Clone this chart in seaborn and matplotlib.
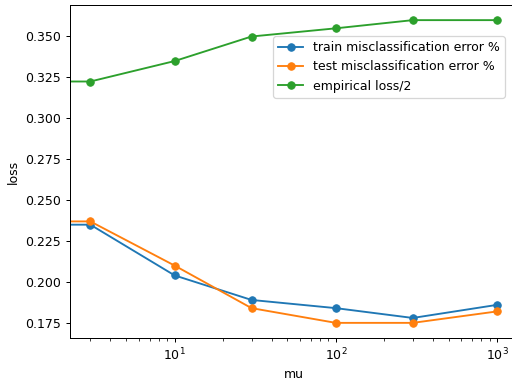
import matplotlib
matplotlib.use("Agg")
import matplotlib.pyplot as plt
import seaborn as sns
import numpy as np

mu = [0, 3, 10, 30, 100, 300, 1000]
train_err = [0.235, 0.235, 0.204, 0.189, 0.184, 0.178, 0.186]
test_err = [0.237, 0.237, 0.210, 0.184, 0.175, 0.175, 0.182]
emp_loss = [0.3225, 0.3225, 0.335, 0.350, 0.355, 0.360, 0.360]

labels = ["train misclassification error %", "test misclassification error %", "empirical loss/2"]
colors = ["#1f77b4", "#ff7f0e", "#2ca02c"]

DPI = 90
fig = plt.figure(figsize=(512 / DPI, 381 / DPI), dpi=DPI)
ax = fig.add_axes([70 / 512, 1 - 338 / 381, (517.4 - 70) / 512, (338 - 5) / 381])

for ys, lab, c in zip([train_err, test_err, emp_loss], labels, colors):
    sns.lineplot(x=mu, y=ys, ax=ax, label=lab, color=c, marker="o",
                 markersize=6, markeredgecolor=c, linewidth=1.5, sort=False)

ax.set_xscale("log")
ax.set_xlabel("mu")
ax.set_ylabel("loss")
ax.legend(loc="upper right", bbox_to_anchor=(0.986, 0.925))

fig.savefig("out.png", dpi=DPI)
